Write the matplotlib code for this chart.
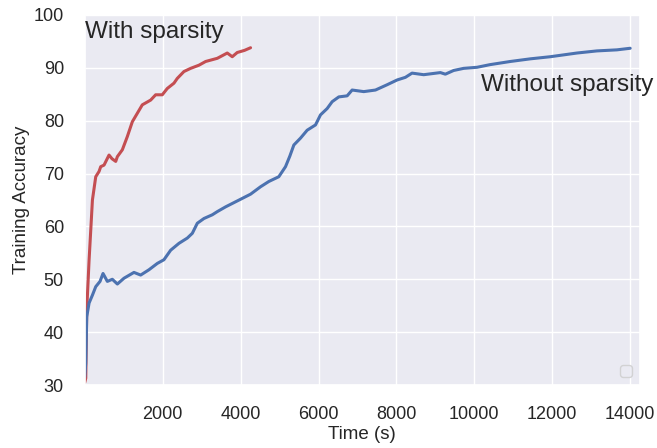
import matplotlib
matplotlib.use("Agg")
import matplotlib.pyplot as plt
import seaborn as sns

sns.set(color_codes=True)
plt.rcParams['font.family'] = ['Liberation Sans', 'DejaVu Sans']
plt.rcParams['xtick.major.pad'] = 9
plt.rcParams['ytick.major.pad'] = 9

# With sparsity (red)
sparse_t = [0, 26, 51, 111, 197, 282, 367, 410, 495, 623, 700, 795, 837, 965, 1093, 1221,
            1349, 1477, 1692, 1820, 1990, 2119, 2290, 2375, 2546, 2718, 2932, 3103, 3402,
            3658, 3786, 3914, 4100, 4256]
sparse_acc = [30.5, 31.3, 44.2, 53.6, 65.0, 69.4, 70.4, 71.3, 71.6, 73.5, 72.8, 72.3, 73.2,
              74.5, 77.0, 79.8, 81.4, 83.0, 83.9, 84.9, 84.9, 86.1, 87.1, 88.0, 89.3, 89.9,
              90.5, 91.2, 91.8, 92.8, 92.1, 92.9, 93.3, 93.8]

# Without sparsity (blue)
dense_t = [0, 26, 51, 111, 197, 282, 392, 469, 580, 708, 837, 1007, 1263, 1435, 1648, 1862,
           2033, 2205, 2418, 2633, 2761, 2889, 3060, 3274, 3402, 3615, 3829, 4043, 4256,
           4512, 4725, 4981, 5153, 5264, 5367, 5538, 5709, 5923, 6051, 6222, 6351, 6521,
           6735, 6863, 7162, 7462, 7761, 8017, 8230, 8401, 8700, 9128, 9256, 9469, 9726,
           10068, 10400, 10923, 11436, 11949, 12633, 13146, 13659, 14000]
dense_acc = [31.5, 34.2, 42.9, 45.5, 47.0, 48.6, 49.6, 51.1, 49.6, 50.0, 49.1, 50.2, 51.3,
             50.8, 51.8, 53.0, 53.7, 55.5, 56.8, 57.8, 58.7, 60.6, 61.5, 62.2, 62.8, 63.7,
             64.5, 65.3, 66.1, 67.5, 68.5, 69.4, 71.3, 73.3, 75.4, 76.7, 78.2, 79.2, 81.1,
             82.3, 83.6, 84.5, 84.7, 85.8, 85.5, 85.8, 86.8, 87.7, 88.2, 89.0, 88.7, 89.1,
             88.8, 89.5, 89.9, 90.1, 90.6, 91.2, 91.7, 92.1, 92.8, 93.2, 93.4, 93.7]

fig = plt.figure(figsize=(6.57, 4.48), dpi=100)
ax = fig.add_axes([0.129, 0.1406, 0.845, 0.826])
ax.plot(sparse_t, sparse_acc, color="r", lw=2.2)
ax.plot(dense_t, dense_acc, color="b", lw=2.2)
ax.set_xlim(0, 14250)
ax.set_ylim(30, 100)
ax.set_xticks([2000, 4000, 6000, 8000, 10000, 12000, 14000])
ax.tick_params(labelsize=13)
ax.set_xlabel("Time (s)", fontsize=13.5, labelpad=2)
ax.set_ylabel("Training Accuracy", fontsize=13.5, labelpad=3)
ax.text(0, 96.8, "With sparsity", fontsize=17.5, ha="left", va="center", color="#262626")
ax.text(10180, 86.8, "Without sparsity", fontsize=17.5, ha="left", va="center", color="#262626")
ax.legend(handles=[], labels=[], loc="lower right")
fig.savefig("out.png", dpi=100)
